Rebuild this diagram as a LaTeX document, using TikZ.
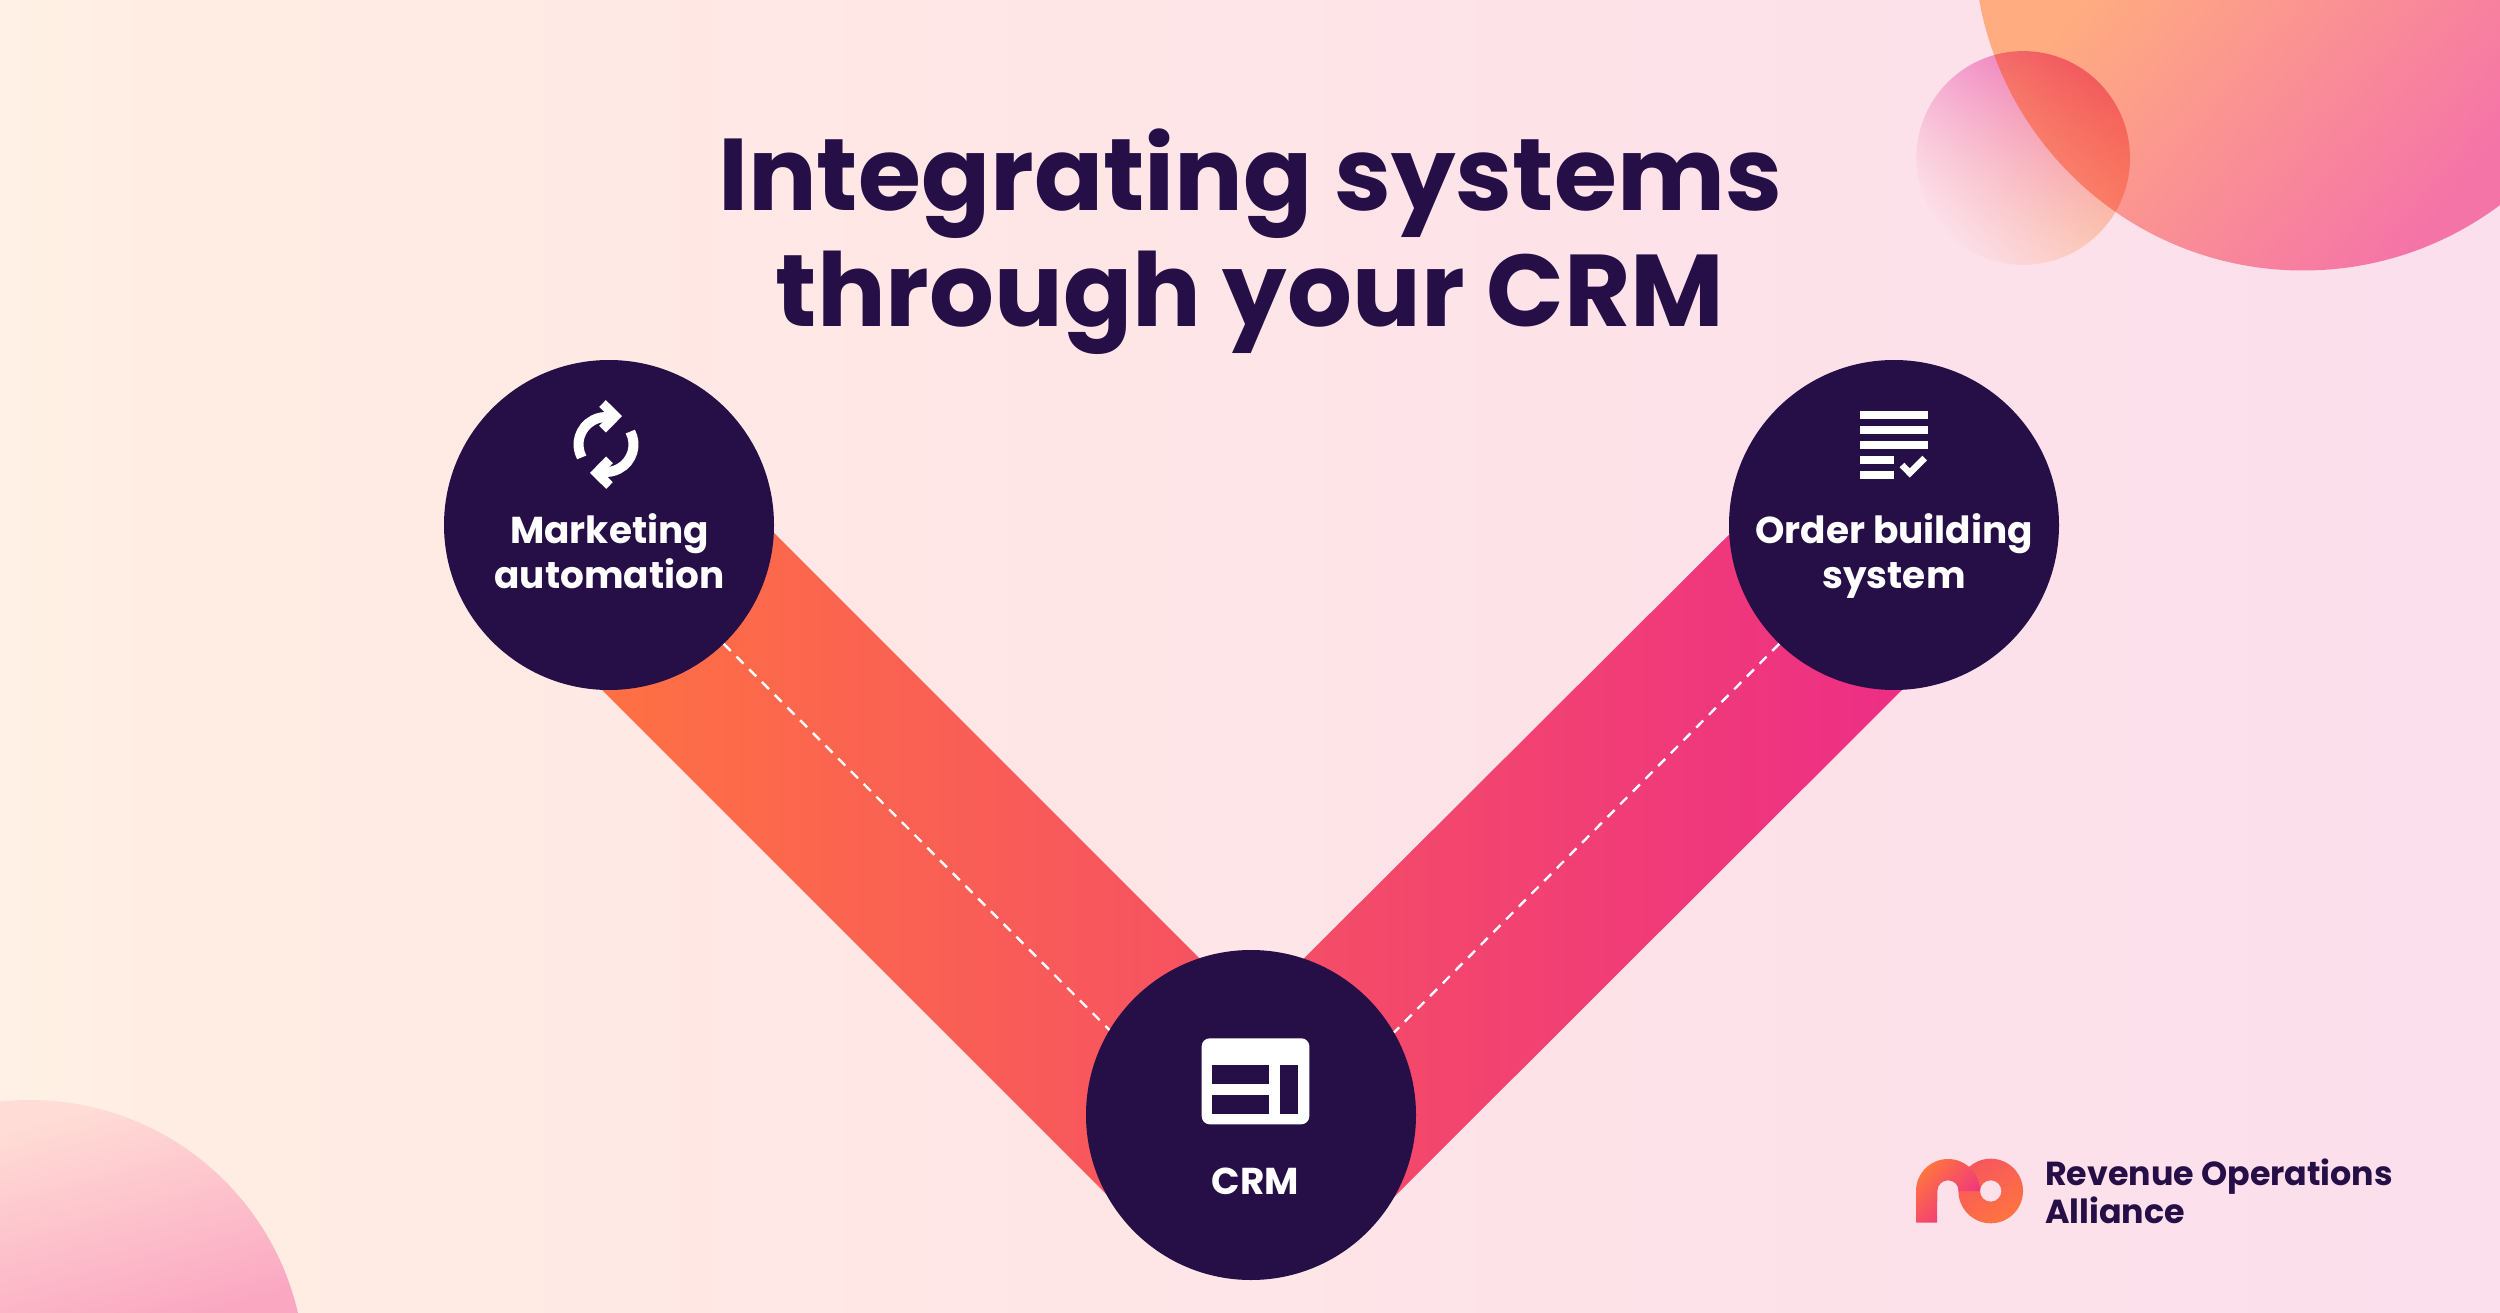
\documentclass[tikz,border=0pt]{standalone}
\usepackage{fontspec}
\setmainfont{Poppins}[BoldFont={Poppins Bold}]
\usetikzlibrary{fadings}

\definecolor{inkdark}{HTML}{260F47}
\definecolor{bgone}{HTML}{FFF1E5}
\definecolor{bgtwo}{HTML}{FFEDE3}
\definecolor{bgthree}{HTML}{FFE9E4}
\definecolor{bgfour}{HTML}{FEE5E7}
\definecolor{bgfive}{HTML}{FCE0EA}
\definecolor{bgsix}{HTML}{FBDFEC}
\definecolor{bandorange}{HTML}{FF7440}
\definecolor{bandpink}{HTML}{EC2B88}
\definecolor{blobpeach}{HTML}{FFAC80}
\definecolor{blobpink}{HTML}{F574A8}
\definecolor{cornerpale}{HTML}{FFDDD6}
\definecolor{cornerpink}{HTML}{FAA8C2}
\definecolor{smallpink}{HTML}{F078C4}
\definecolor{smallpeach}{HTML}{FFC48C}

\pgfdeclarehorizontalshading{backdrop}{100bp}{color(0bp)=(bgone); color(25bp)=(bgone); color(28bp)=(bgtwo); color(37bp)=(bgthree); color(50bp)=(bgfour); color(65bp)=(bgfive); color(75bp)=(bgsix); color(100bp)=(bgsix)}
\tikzfading[name=softcorner, top color=transparent!0, middle color=transparent!10, bottom color=transparent!100]

\begin{document}
\begin{tikzpicture}[x=1pt, y=-1pt,
	hub/.style={circle, fill=inkdark, minimum size=330pt, inner sep=0pt},
	hubtext/.style={text=white, font=\bfseries\fontsize{37.4}{45}\selectfont, align=center, inner sep=0pt},
	heading/.style={text=inkdark, font=\bfseries\fontsize{102}{116}\selectfont, align=center, inner sep=0pt},
	brand/.style={text=inkdark, font=\bfseries\fontsize{33.3}{38.4}\selectfont, align=left, inner sep=0pt},
	link/.style={draw=white, line width=2.4pt, dash pattern=on 10pt off 8pt},
	iconline/.style={draw=white, line width=10pt},
	iconbar/.style={fill=white},
	iconhole/.style={fill=inkdark}]
	\useasboundingbox (0,0) rectangle (2500,1313);
	% backdrop and corner blobs
	\shade[shading=backdrop] (0,0) rectangle (2500,1313);
	\begin{scope}
		\clip (2303,-58.5) circle[radius=329pt];
		\shade[top color=blobpeach, bottom color=blobpink, shading angle=50] (1974,0) rectangle (2500,271);
	\end{scope}
	\begin{scope}
		\clip (30,1375) circle[radius=275pt];
		\shade[top color=cornerpale, bottom color=cornerpink, shading angle=15] (0,1100) rectangle (305,1313);
	\end{scope}
	\begin{scope}[blend mode=multiply]
		\shade[top color=smallpink, bottom color=smallpeach, shading angle=25, path fading=softcorner, fading angle=-50] (2023.5,158) circle[radius=107pt];
	\end{scope}
	% the two bands running into the CRM hub
	\shade[left color=bandorange, right color=bandpink]
		(700,459) -- (1280.5,1039.5) -- (1116,1204) -- (535.5,623.5) -- cycle
		(1802,462) -- (1222,1040) -- (1387,1204) -- (1966,626) -- cycle;
	% hubs
	\node[hub] (mkt) at (609,525) {};
	\node[hub] (order) at (1894,525) {};
	\node[hub] (crm) at (1251,1115) {};
	\draw[link] (mkt.-46.7) -- (crm.149.7);
	\draw[link] (order.226.7) -- (crm.30.4);
	% labels
	\node[heading] (title) at (1250,241.5) {Integrating systems\\through your CRM};
	\node[hubtext] (mktlabel) at (609.5,551) {Marketing\\automation};
	\node[hubtext] (orderlabel) at (1894,555.5) {Order building\\system};
	\node[hubtext, anchor=base] (crmlabel) at (1255.5,1194) {CRM};
	\node[brand, anchor=west] (brandname) at (2045,1191) {Revenue Operations\\Alliance};
	% sync icon
	\begin{scope}[shift={(606,444.5)}]
		\foreach \a in {0,180} {
			\draw[iconline, rotate=\a] (208:27.5pt) arc[start angle=208, end angle=80, radius=27.5pt];
			\draw[iconline, line width=9.5pt, rotate=\a] (-3.5pt,41pt) -- (9.3pt,28.3pt) -- (-3.5pt,15.3pt);
		}
	\end{scope}
	% order sheet icon
	\foreach \y in {411,426,441} \fill[iconbar] (1860.3,\y) rectangle (1927.7,\y+8);
	\foreach \y in {455.7,470.5} \fill[iconbar] (1860.3,\y) rectangle (1894,\y+8);
	\draw[iconline, line width=6.4pt] (1902,465) -- (1909.7,473) -- (1924.7,458);
	% crm window icon
	\fill[iconbar, rounded corners=8pt] (1201.7,1038.3) rectangle (1309.3,1124.3);
	\fill[iconhole] (1212.3,1065.3) rectangle (1268.7,1084);
	\fill[iconhole] (1212.3,1095) rectangle (1268.7,1113.7);
	\fill[iconhole] (1279.7,1065.3) rectangle (1298.3,1113.7);
	% logo mark
	\shade[even odd rule, top color=bandorange!60!bandpink, middle color=bandpink, bottom color=bandorange, shading angle=30]
		(1990.7,1191) circle[radius=32.3pt] (1990.7,1191) circle[radius=10.67pt];
	\shade[top color=bandorange, middle color=bandpink, bottom color=bandpink, shading angle=45]
		(1916,1222.7) -- (1916,1191) arc[start angle=180, end angle=0, radius=32pt] -- (1958.67,1191) arc[start angle=0, end angle=180, radius=10.67pt] -- (1937,1222.7) -- cycle;
\end{tikzpicture}
\end{document}
